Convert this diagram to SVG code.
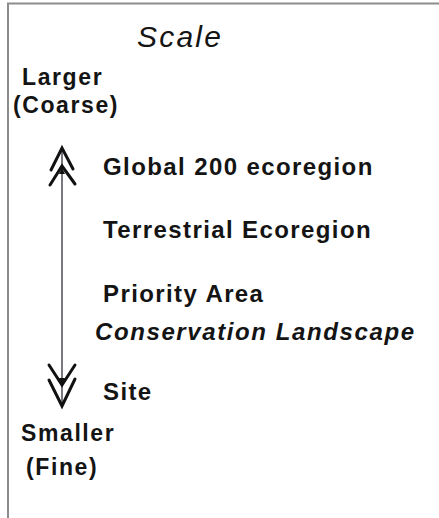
<svg xmlns="http://www.w3.org/2000/svg" width="439" height="518" viewBox="0 0 439 518">
  <style>
    text { font-family: "Liberation Sans", Arial, sans-serif; fill: #141414; }
    .title { font-size: 30px; font-style: italic; letter-spacing: 2.2px; }
    .end { font-size: 23px; font-weight: bold; letter-spacing: 1.6px; }
    .level { font-size: 24px; font-weight: bold; letter-spacing: 1.4px; }
    .sub { font-size: 24px; font-weight: bold; font-style: italic; letter-spacing: 1.6px; }
    .axis { stroke: #5a5560; stroke-width: 1.6; fill: none; }
    .head { stroke: #111; stroke-width: 3; fill: none; stroke-linecap: round; stroke-linejoin: miter; }
  </style>

  <rect width="439" height="518" fill="#ffffff"/>
  <!-- frame: only top and left edges fall inside the canvas -->
  <rect x="8" y="3.5" width="460" height="540" fill="none" stroke="#8c8c8c" stroke-width="2"/>

  <g id="title">
    <text class="title" x="137" y="47">Scale</text>
  </g>

  <g id="larger">
    <text class="end" x="22" y="85">Larger</text>
    <text class="end" x="13" y="113">(Coarse)</text>
  </g>

  <g id="smaller">
    <text class="end" x="21" y="441">Smaller</text>
    <text class="end" x="26" y="475">(Fine)</text>
  </g>

  <g id="global200">
    <text class="level" x="103" y="175">Global 200 ecoregion</text>
  </g>
  <g id="terrestrial">
    <text class="level" x="103" y="238">Terrestrial Ecoregion</text>
  </g>
  <g id="priority">
    <text class="level" x="103" y="302">Priority Area</text>
    <text class="sub" x="95" y="340">Conservation Landscape</text>
  </g>
  <g id="site">
    <text class="level" x="103" y="400">Site</text>
  </g>

  <g id="connectors">
    <line class="axis" x1="62" y1="150" x2="62" y2="404"/>
    <!-- upward double head -->
    <polyline class="head" points="51,170 62,148 73,169"/>
    <polyline class="head" points="50,185 62,166 75,184"/>
    <polygon points="59,174 62,168 65,174" fill="#111"/>
    <!-- downward double head -->
    <polyline class="head" points="49,365 62,385 75,365"/>
    <polyline class="head" points="49,380 62,406 75,379"/>
    <polygon points="59,378 62,385 65,378" fill="#111"/>
  </g>
</svg>
